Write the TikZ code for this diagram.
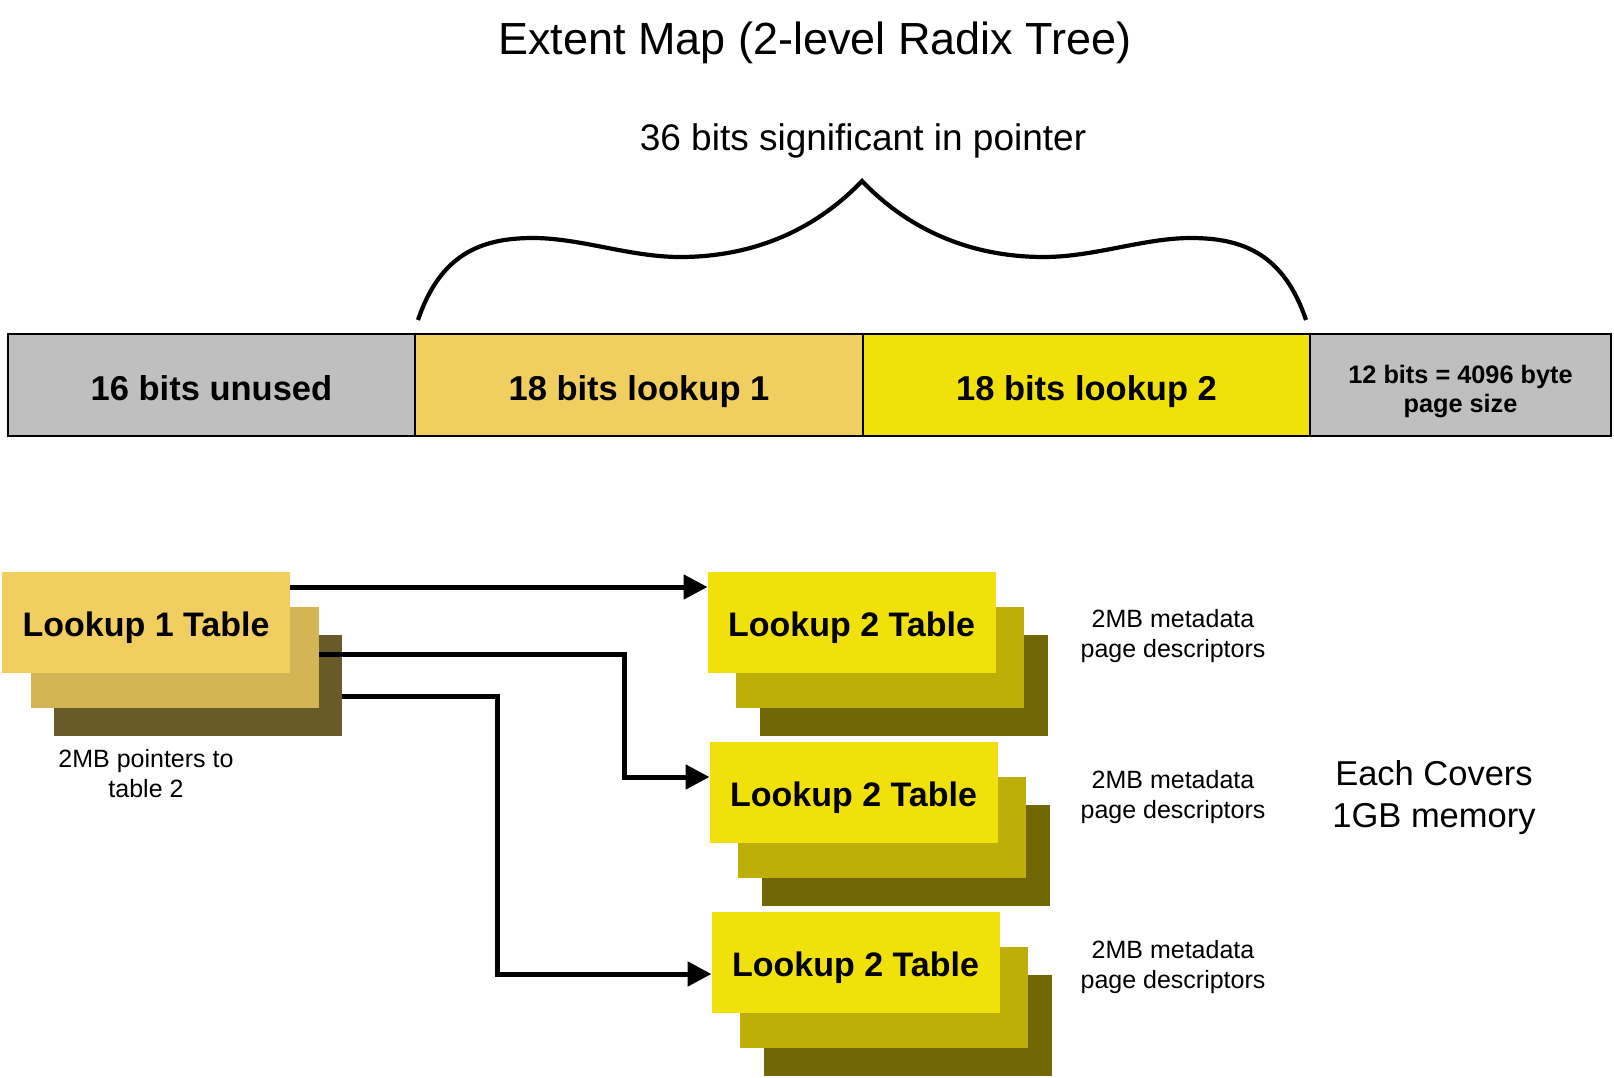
\documentclass[tikz,border=0pt]{standalone}
\usepackage{fontspec}
\setmainfont{Liberation Sans}
\usetikzlibrary{arrows.meta,positioning}

\definecolor{unusedgrey}{HTML}{BFBFBF}
\definecolor{goldA}{HTML}{F0CE60}
\definecolor{goldB}{HTML}{D3B556}
\definecolor{goldC}{HTML}{695A2A}
\definecolor{yelA}{HTML}{F0E10B}
\definecolor{yelB}{HTML}{BDAE08}
\definecolor{yelC}{HTML}{716704}

\begin{document}
\begin{tikzpicture}[x=1pt, y=-1pt]
\tikzstyle{seg} = [draw, line width=2pt, minimum height=102pt, inner sep=0pt, outer sep=0pt, font=\fontsize{34.5}{40}\selectfont\bfseries]
\tikzstyle{oneline} = [text height=31pt, text depth=0pt]
\tikzstyle{tbl} = [minimum width=288pt, minimum height=101pt, inner sep=0pt, outer sep=0pt, text height=27pt, text depth=0pt, font=\fontsize{34}{40}\selectfont\bfseries]
\tikzstyle{note} = [anchor=north, inner sep=0pt, align=center, font=\fontsize{25}{30}\selectfont]
\tikzstyle{arr} = [line width=5pt, -{Triangle[length=24pt,width=24pt]}]

\useasboundingbox (0,0) rectangle (1614,1078);

% headings
\node[anchor=base, inner sep=0pt, font=\fontsize{45}{54}\selectfont] (title) at (815,55) {Extent Map (2-level Radix Tree)};
\node[anchor=base, inner sep=0pt, font=\fontsize{37}{44}\selectfont] (sig) at (863,151) {36 bits significant in pointer};

% pointer bits
\node[seg, oneline, fill=unusedgrey, minimum width=407pt] (unused) at (211.5,385) {16 bits unused};
\node[seg, oneline, fill=goldA, minimum width=448pt, right=0pt of unused] (lk1) {18 bits lookup 1};
\node[seg, oneline, fill=yelA, minimum width=447pt, right=0pt of lk1] (lk2) {18 bits lookup 2};
\node[seg, fill=unusedgrey, minimum width=301pt, right=0pt of lk2, align=center, text height=54pt, text depth=0pt, font=\fontsize{25.3}{29}\selectfont\bfseries] (pgsz) {12 bits = 4096 byte\\page size};

% brace over the lookup bits
\draw[line width=4.2pt] (418,320) .. controls (440,255) and (480,238) .. (533,238)
  .. controls (580,238) and (630,257) .. (680,257)
  .. controls (760,257) and (820,225) .. (862,181)
  .. controls (904,225) and (964,257) .. (1044,257)
  .. controls (1094,257) and (1144,238) .. (1191,238)
  .. controls (1244,238) and (1284,255) .. (1306,320);

% lookup 1 table
\node[tbl, fill=goldC] (l1back) at (198,685.5) {};
\node[tbl, fill=goldB] (l1mid) at (174.5,657.5) {};
\node[tbl, fill=goldA] (l1front) at (146,622.5) {Lookup 1 Table};
\node[note] (l1note) at (146,749) {2MB pointers to\\table 2};

% lookup 2 tables
\foreach \k in {0,1,2} {
  \node[tbl, fill=yelC] (tb\k) at (904+2*\k,685.5+170*\k) {};
  \node[tbl, fill=yelB] (tm\k) at (880+2*\k,657.5+170*\k) {};
  \node[tbl, fill=yelA] (tf\k) at (851.5+2*\k,622.5+170*\k) {Lookup 2 Table};
}
\node[note] (md0) at (1173,609) {2MB metadata\\page descriptors};
\node[note] (md1) at (1173,770) {2MB metadata\\page descriptors};
\node[note] (md2) at (1173,940) {2MB metadata\\page descriptors};
\node[note, font=\fontsize{34.5}{42}\selectfont] (cover) at (1434,760) {Each Covers\\1GB memory};

% pointers
\draw[arr] ([yshift=-15pt]l1front.north east) -- ([yshift=-15pt]tf0.north west);
\draw[arr] ([yshift=-47pt]l1mid.north east) -- ++(306,0) |- ([yshift=-35pt]tf1.north west);
\draw[arr] ([yshift=-61pt]l1back.north east) -- ++(155,0) |- ([yshift=-62pt]tf2.north west);
\end{tikzpicture}
\end{document}
